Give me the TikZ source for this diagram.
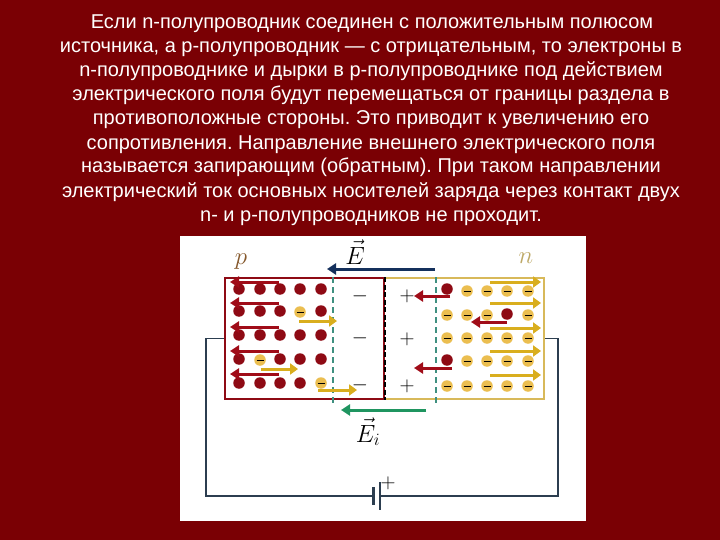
\documentclass[tikz,border=0pt]{standalone}
\usepackage{fontspec}
\setmainfont{Liberation Sans}
\usetikzlibrary{arrows.meta}
\frenchspacing
\definecolor{bgred}{HTML}{7A0004}
\definecolor{dotred}{HTML}{8E0A14}
\definecolor{arrred}{HTML}{A00C18}
\definecolor{gold}{HTML}{D9AE1E}
\definecolor{dotgold}{HTML}{EBBE50}
\definecolor{frametan}{HTML}{D8B95A}
\definecolor{navy}{HTML}{14305C}
\definecolor{wire}{HTML}{2C3E50}
\definecolor{teal}{HTML}{3F9080}
\definecolor{grn}{HTML}{1F9560}
\tikzset{
 x=1pt,y=-1pt,
 textline/.style={text=white,font=\fontsize{20}{24}\selectfont,inner sep=0pt,anchor=base},
 hole/.style={circle,fill=dotred,draw=none,minimum size=11.5pt,inner sep=0pt},
 elec/.style={circle,fill=dotgold,draw=none,minimum size=11.5pt,inner sep=0pt,
   path picture={\draw[black,line width=1pt] ([xshift=-3.5pt]path picture bounding box.center)--([xshift=3.5pt]path picture bounding box.center);}},
 redarrow/.style={draw=arrred,line width=3pt,-{Triangle[length=9pt,width=11pt]}},
 goldarrow/.style={draw=gold,line width=3pt,-{Triangle[length=8pt,width=11pt]}},
 fieldlabel/.style={font=\fontsize{24}{24}\selectfont,inner sep=0pt,anchor=base},
 sign/.style={font=\fontsize{22}{22}\selectfont,inner sep=0pt,text=black},
 zone/.style={draw,line width=2.2pt,inner sep=0pt,anchor=north west},
 wireline/.style={draw=wire,line width=1.4pt},
 bound/.style={draw=teal,line width=1.8pt,dash pattern=on 6pt off 4pt},
}
\begin{document}
\begin{tikzpicture}
\useasboundingbox (0,0) rectangle (720,540);
\fill[bgred] (0,0) rectangle (720,540);
\fill[white] (180,236) rectangle (586,521);
% text
\node[textline] (l1) at (372,29) {Если n-полупроводник соединен с положительным полюсом};
\node[textline] (l2) at (371,53) {источника, а p-полупроводник — с отрицательным, то электроны в};
\node[textline] (l3) at (371,77) {n-полупроводнике и дырки в p-полупроводнике под действием};
\node[textline] (l4) at (371,101) {электрического поля будут перемещаться от границы раздела в};
\node[textline] (l5) at (371,125) {противоположные стороны. Это приводит к увеличению его};
\node[textline] (l6) at (371,149.5) {сопротивления. Направление внешнего электрического поля};
\node[textline] (l7) at (371,173) {называется запирающим (обратным). При таком направлении};
\node[textline] (l8) at (371,197) {электрический ток основных носителей заряда через контакт двух};
\node[textline] (l9) at (371,222) {n- и p-полупроводников не проходит.};
% zones
\node[zone,draw=frametan,minimum width=160pt,minimum height=121pt] (nz) at (383,277) {};
\node[zone,draw=dotred,minimum width=159pt,minimum height=121pt] (pz) at (224,277) {};
\draw[black,line width=2pt,dash pattern=on 5pt off 2.5pt] (pz.north east) -- (pz.south east);
% boundaries
\coordinate (b1t) at (333,277); \coordinate (b1b) at (333,404);
\coordinate (b2t) at (436,277); \coordinate (b2b) at (436,404);
\draw[bound] (b1t) -- (b1b);
\draw[bound] (b2t) -- (b2b);
% circuit
\node[draw=none,inner sep=0pt,minimum width=0pt,minimum height=18pt,line width=0pt] (neg) at (373,496) {};
\node[draw=none,inner sep=0pt,minimum width=0pt,minimum height=28pt,line width=0pt] (pos) at (380,496) {};
\coordinate (cl) at (206,496); \coordinate (cr) at (558,496);
\draw[wireline] (pz.west) -| (cl) -- (neg.center);
\draw[wireline] (nz.east) -| (cr) -- (pos.center);
\draw[wire,line width=3pt] (neg.north) -- (neg.south);
\draw[wire,line width=1.2pt] (pos.north) -- (pos.south);
\node[sign] (bplus) at (388,483) {$+$};
% holes in p
\foreach \y/\r in {289/a,311/b,335/c,359/d,383/e}{
 \foreach \x/\c in {239/1,260/2,280/3,300/4,321/5}{
  \ifnum\pdfstrcmp{\r\c}{b4}=0 \node[elec] (p\r\c) at (\x,\y+1) {};
  \else\ifnum\pdfstrcmp{\r\c}{d2}=0 \node[elec] (p\r\c) at (\x,\y+1) {};
  \else\ifnum\pdfstrcmp{\r\c}{e5}=0 \node[elec] (p\r\c) at (\x,\y) {};
  \else \node[hole] (p\r\c) at (\x,\y) {};\fi\fi\fi
 }
}
% electrons in n
\foreach \y/\r in {291/a,315/b,338/c,361/d,386/e}{
 \foreach \x/\c in {447/1,467/2,487/3,507/4,528/5}{
  \ifnum\pdfstrcmp{\r\c}{a1}=0 \node[hole] (n\r\c) at (\x,\y-2) {};
  \else\ifnum\pdfstrcmp{\r\c}{b4}=0 \node[hole] (n\r\c) at (\x,\y-1) {};
  \else\ifnum\pdfstrcmp{\r\c}{d1}=0 \node[hole] (n\r\c) at (\x,\y-1) {};
  \else \node[elec] (n\r\c) at (\x,\y) {};\fi\fi\fi
 }
}
% arrows p
\foreach \y in {282,303,327,351,374}{ \draw[redarrow] (279,\y) -- (230,\y); }
\draw[goldarrow] (299,321) -- (337,321);
\draw[goldarrow] (261,369) -- (298,369);
\draw[goldarrow] (318,390) -- (357,390);
% arrows n
\foreach \y in {282,303,328,351,375}{ \draw[goldarrow] (490,\y) -- (541,\y); }
\draw[redarrow] (450,296) -- (414,296);
\draw[redarrow] (507,322) -- (471,322);
\draw[redarrow] (452,368) -- (414,368);
% signs
\foreach \y [count=\i] in {296,338,385}{ \node[sign] (m\i) at (360,\y) {$-$}; }
\foreach \y [count=\i] in {296,339,386}{ \node[sign] (q\i) at (407,\y) {$+$}; }
% fields
\coordinate (es) at (435,269); \coordinate (ee) at (327,269);
\draw[navy,line width=3pt,-{Triangle[length=9pt,width=11pt]}] (es) -- (ee);
\coordinate (is) at (426,410); \coordinate (ie) at (341,410);
\draw[grn,line width=3pt,-{Triangle[length=9pt,width=11pt]}] (is) -- (ie);
\node[fieldlabel] (E) at (355,264) {$\vec{E}$};
\node[fieldlabel] (Ei) at (368,442) {$\vec{E}_i$};
\node[fieldlabel,text=brown!70!black] (p) at (241,264) {$p$};
\node[fieldlabel,text=frametan!70!gray] (n) at (526,263) {$n$};
\end{tikzpicture}
\end{document}
